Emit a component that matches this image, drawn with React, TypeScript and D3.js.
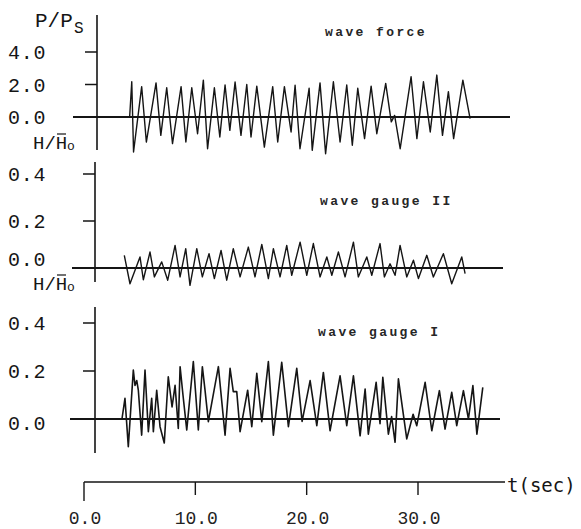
import React from "react";
import * as d3 from "d3";

// ---------- data ----------
const timeTicks = [0, 10, 20, 30];
const timeTickLabels = ["0.0", "10.0", "20.0", "30.0"];
const forceTicks = [0, 2, 4];
const forceTickLabels = ["0.0", "2.0", "4.0"];
const gaugeTicks = [0, 0.2, 0.4];
const gaugeTickLabels = ["0.0", "0.2", "0.4"];

const forceTime = [4.1, 4.29, 4.45, 5.18, 5.6, 6.47, 6.9, 7.43, 7.95, 8.72, 9.15, 9.68, 10.2, 10.72, 11.1, 11.71, 12.2, 12.67, 13.1, 13.57, 14.1, 14.62, 15.0, 15.52, 16.2, 16.95, 17.4, 18.0, 18.6, 18.96, 19.4, 20.22, 20.5, 21.2, 21.7, 22.4, 23.0, 23.6, 24.1, 24.59, 25.2, 25.79, 26.3, 27.1, 27.6, 27.9, 28.4, 29.38, 29.9, 30.49, 31.1, 31.69, 32.2, 32.73, 33.2, 34.03, 34.68];
const forceValue = [0, 2.17, -2.15, 1.87, -1.54, 2.1, -1.13, 1.8, -1.64, 1.87, -1.54, 1.8, -1.03, 2.27, -1.95, 1.8, -1.23, 1.97, -0.82, 2.15, -1.13, 2.0, -1.23, 1.9, -1.85, 1.87, -1.54, 1.87, -0.92, 1.95, -1.95, 1.77, -2.05, 2.1, -2.26, 2.17, -1.54, 1.97, -1.74, 1.77, -1.33, 1.9, -1.03, 2.07, -0.3, 0.1, -1.95, 2.48, -1.33, 2.17, -0.92, 2.58, -1.13, 1.56, -1.33, 2.27, -0.1];

const gauge2Time = [3.62, 4.13, 5.03, 5.33, 5.93, 6.32, 6.98, 7.52, 8.18, 8.63, 9.14, 9.52, 10.13, 10.63, 11.23, 11.71, 12.31, 12.82, 13.41, 14.02, 14.76, 15.36, 15.97, 16.56, 17.01, 17.61, 18.21, 18.66, 19.41, 20.01, 20.6, 21.2, 21.81, 22.26, 22.85, 23.45, 24.2, 24.64, 25.4, 25.85, 26.59, 26.98, 27.49, 27.94, 28.39, 28.99, 29.59, 30.04, 30.79, 31.38, 32.28, 33.03, 33.93, 34.23];
const gauge2Value = [0.054, -0.067, 0.047, -0.05, 0.068, -0.038, 0.026, -0.052, 0.096, -0.038, 0.082, -0.074, 0.082, -0.038, 0.061, -0.045, 0.075, -0.052, 0.082, -0.038, 0.089, -0.038, 0.1, -0.045, 0.082, -0.038, 0.096, -0.031, 0.11, -0.031, 0.104, -0.038, 0.047, -0.031, 0.068, -0.038, 0.11, -0.038, 0.047, -0.031, 0.104, -0.038, 0.018, -0.031, 0.096, -0.038, 0.033, -0.045, 0.054, -0.038, 0.061, -0.067, 0.047, -0.024];

const gauge1Time = [3.41, 3.68, 3.98, 4.43, 4.58, 4.74, 4.88, 5.18, 5.48, 5.78, 6.08, 6.23, 6.53, 6.83, 7.21, 7.57, 7.91, 8.18, 8.47, 8.63, 8.89, 9.23, 9.82, 10.27, 10.63, 10.87, 11.17, 12.07, 12.67, 13.12, 13.41, 13.72, 14.02, 14.7, 15.07, 15.52, 15.97, 16.56, 17.01, 17.76, 18.36, 19.11, 19.59, 20.31, 20.91, 21.5, 22.1, 23.0, 23.6, 24.2, 24.8, 25.25, 25.54, 26.24, 26.59, 26.84, 27.34, 27.63, 27.94, 28.24, 28.99, 29.56, 29.89, 30.64, 31.24, 31.92, 32.43, 33.03, 33.48, 34.08, 34.53, 34.93, 35.29, 35.82];
const gauge1Value = [0, 0.086, -0.115, 0.204, 0.14, 0.16, 0.12, -0.067, 0.204, -0.053, 0.086, -0.053, 0.12, -0.032, -0.1, 0.176, 0.05, 0.14, -0.039, 0.218, 0.1, -0.046, 0.239, -0.046, 0.218, 0.12, -0.011, 0.218, -0.067, 0.211, 0.114, 0.114, -0.053, 0.12, -0.032, 0.19, -0.011, 0.239, -0.067, 0.236, -0.032, 0.211, -0.01, 0.16, -0.028, 0.194, -0.049, 0.18, -0.028, 0.18, -0.07, 0.125, -0.063, 0.153, -0.02, 0.174, -0.063, 0.01, -0.097, 0.167, -0.083, 0.02, -0.028, 0.153, -0.049, 0.118, -0.042, 0.111, -0.028, 0.118, 0, 0.139, -0.063, 0.132];

// ---------- layout ----------
const W = 581;
const H = 529;
const x = d3.scaleLinear().domain([0, 30]).range([84, 418]);

const LIGHT = "'Liberation Mono', 'DejaVu Sans Mono', monospace";
const TYPE = "'Liberation Mono', 'DejaVu Sans Mono', monospace";
const INK = "#151515";

const panels = [
  {
    key: "force",
    y: d3.scaleLinear().domain([0, 4]).range([117, 52]),
    axisX: 97, axisTop: 15, axisBottom: 150,
    zeroFrom: 73, zeroTo: 510,
    ticks: forceTicks, labels: forceTickLabels, zeroLabelShift: 0,
    time: forceTime, values: forceValue, lw: 1.4,
    title: "wave force", titleX: 325, titleY: 36,
  },
  {
    key: "g2",
    y: d3.scaleLinear().domain([0, 0.4]).range([268, 174]),
    axisX: 95, axisTop: 162, axisBottom: 282,
    zeroFrom: 72, zeroTo: 503,
    ticks: gaugeTicks, labels: gaugeTickLabels, zeroLabelShift: -9,
    time: gauge2Time, values: gauge2Value, lw: 1.4,
    title: "wave gauge II", titleX: 320, titleY: 205,
  },
  {
    key: "g1",
    y: d3.scaleLinear().domain([0, 0.4]).range([419, 323]),
    axisX: 95, axisTop: 307, axisBottom: 453,
    zeroFrom: 70, zeroTo: 500,
    ticks: gaugeTicks, labels: gaugeTickLabels, zeroLabelShift: 4,
    time: gauge1Time, values: gauge1Value, lw: 1.6,
    title: "wave gauge I", titleX: 318, titleY: 336,
  },
];

function HLabel({ xPos, yPos }: { xPos: number; yPos: number }) {
  return (
    <g fill={INK}>
      <text x={xPos} y={yPos} fontFamily={LIGHT} fontSize={19}>
        H/H
      </text>
      <line x1={xPos + 24} x2={xPos + 33} y1={yPos - 15} y2={yPos - 15} stroke={INK} strokeWidth={1.2} />
      <text x={xPos + 34} y={yPos + 1} fontFamily={LIGHT} fontSize={13}>
        o
      </text>
    </g>
  );
}

export default function App() {
  const axisY = 482;
  return (
    <svg
      width={W}
      height={H}
      viewBox={`0 0 ${W} ${H}`}
      style={{ position: "absolute", left: 0, top: 0, background: "#fff" }}
    >
      <rect x={0} y={0} width={W} height={H} fill="#fff" />
      {panels.map((p) => {
        const line = d3
          .line<number>()
          .x((_, i) => x(p.time[i]))
          .y((v) => p.y(v));
        return (
          <g key={p.key}>
            <line x1={p.axisX} x2={p.axisX} y1={p.axisTop} y2={p.axisBottom} stroke={INK} strokeWidth={1.6} />
            <line x1={p.zeroFrom} x2={p.zeroTo} y1={p.y(0)} y2={p.y(0)} stroke={INK} strokeWidth={1.8} />
            {p.ticks.map((t, i) => (
              <g key={t}>
                {t !== 0 && (
                  <line x1={p.axisX - 12} x2={p.axisX} y1={p.y(t)} y2={p.y(t)} stroke={INK} strokeWidth={1.5} />
                )}
                <text
                  x={8}
                  y={p.y(t) + 7 + (t === 0 ? p.zeroLabelShift : 0)}
                  fontFamily={LIGHT}
                  fontSize={20}
                  letterSpacing={0.8}
                  fill={INK}
                >
                  {p.labels[i]}
                </text>
              </g>
            ))}
            <path d={line(p.values) || ""} fill="none" stroke={INK} strokeWidth={p.lw} strokeLinejoin="round" />
            <text
              x={p.titleX}
              y={p.titleY}
              fontFamily={TYPE}
              fontSize={13}
              fontWeight="bold"
              letterSpacing={2.4}
              fill="#262626"
            >
              {p.title}
            </text>
          </g>
        );
      })}

      {/* P/Ps label */}
      <text x={35} y={27} fontFamily={LIGHT} fontSize={21} fill={INK}>
        P/P
      </text>
      <text x={74} y={33} fontFamily={LIGHT} fontSize={16} fill={INK}>
        S
      </text>
      <HLabel xPos={33} yPos={149} />
      <HLabel xPos={33} yPos={290} />

      {/* time axis */}
      <line x1={x(0)} x2={505} y1={axisY} y2={axisY} stroke={INK} strokeWidth={1.5} />
      {timeTicks.map((t, i) => (
        <g key={t}>
          <line x1={x(t)} x2={x(t)} y1={axisY} y2={axisY + (t === 0 ? 19 : 13)} stroke={INK} strokeWidth={1.4} />
          <text
            x={x(t) + 1}
            y={524}
            textAnchor="middle"
            fontFamily={LIGHT}
            fontSize={18}
            fill="#222"
          >
            {timeTickLabels[i]}
          </text>
        </g>
      ))}
      <text x={507} y={492} fontFamily="'DejaVu Sans Mono', monospace" fontSize={19} fill={INK}>
        t(sec)
      </text>
    </svg>
  );
}
